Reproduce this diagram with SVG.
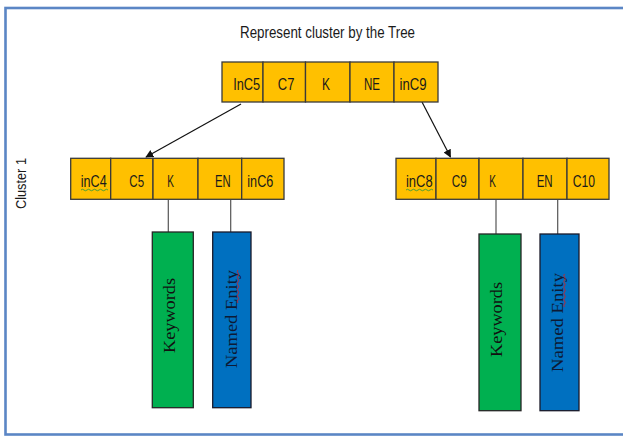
<svg xmlns="http://www.w3.org/2000/svg" width="623" height="439" viewBox="0 0 623 439">
<defs>
<marker id="ah" viewBox="0 0 10 10" refX="9" refY="5" markerWidth="8" markerHeight="8" markerUnits="userSpaceOnUse" orient="auto">
<path d="M0,0 L10,5 L0,10 z" fill="#111"/>
</marker>
<style>
.cell{fill:#FFC000;stroke:#3a3a3a;stroke-width:1.3}
.t{font-family:"Liberation Sans",Arial,sans-serif;font-size:17px;fill:#1a1a1a;text-anchor:middle}
.kw{fill:#00B050;stroke:#262626;stroke-width:1.3}
.ne{fill:#0070C0;stroke:#1a1a2a;stroke-width:1.3}
.vt{font-family:"Liberation Serif","Times New Roman",serif;font-size:17px;text-anchor:middle}
.link{stroke:#555;stroke-width:1.2;fill:none}
.arr{stroke:#111;stroke-width:1.2;fill:none;marker-end:url(#ah)}
.sq{fill:none;stroke-width:0.9}
</style>
</defs>
<rect width="623" height="439" fill="#fff"/>
<rect x="5.5" y="8" width="640" height="426.5" fill="none" stroke="#5b86c5" stroke-width="2.6"/>

<text x="327.5" y="38" font-family="Liberation Sans,Arial,sans-serif" font-size="16" fill="#1a1a1a" text-anchor="middle" textLength="175" lengthAdjust="spacingAndGlyphs">Represent cluster by the Tree</text>

<text transform="rotate(-90 26 183.5)" x="26" y="183.5" font-family="Liberation Sans,Arial,sans-serif" font-size="14" fill="#1a1a1a" text-anchor="middle" textLength="51" lengthAdjust="spacingAndGlyphs">Cluster 1</text>

<g id="connectors">
<line class="arr" x1="241" y1="104" x2="146" y2="157"/>
<line class="arr" x1="422" y1="102" x2="450.5" y2="157"/>
<line class="link" x1="168.3" y1="200" x2="168.3" y2="232"/>
<line class="link" x1="230.7" y1="200" x2="230.7" y2="232"/>
<line class="link" x1="496" y1="200" x2="496" y2="234"/>
<line class="link" x1="557.7" y1="200" x2="557.7" y2="234"/>
</g>

<g id="root">
<rect class="cell" x="222" y="62" width="41" height="40"/>
<rect class="cell" x="263" y="62" width="42.5" height="40"/>
<rect class="cell" x="305.5" y="62" width="44.5" height="40"/>
<rect class="cell" x="350" y="62" width="44" height="40"/>
<rect class="cell" x="394" y="62" width="44" height="40"/>
<text class="t" x="246.7" y="89.5" textLength="27" lengthAdjust="spacingAndGlyphs">InC5</text>
<text class="t" x="286.1" y="89.5" textLength="16.6" lengthAdjust="spacingAndGlyphs">C7</text>
<text class="t" x="326" y="89.5" textLength="8" lengthAdjust="spacingAndGlyphs">K</text>
<text class="t" x="372" y="89.5" textLength="16" lengthAdjust="spacingAndGlyphs">NE</text>
<text class="t" x="413.1" y="89.5" textLength="27" lengthAdjust="spacingAndGlyphs">inC9</text>
</g>

<g id="left">
<rect class="cell" x="70.7" y="158.3" width="40" height="41"/>
<rect class="cell" x="110.7" y="158.3" width="42.3" height="41"/>
<rect class="cell" x="153" y="158.3" width="45" height="41"/>
<rect class="cell" x="198" y="158.3" width="43.7" height="41"/>
<rect class="cell" x="241.7" y="158.3" width="42.3" height="41"/>
<text class="t" x="93.7" y="186.5" textLength="26" lengthAdjust="spacingAndGlyphs">inC4</text>
<text class="t" x="136.7" y="186.5" textLength="14.7" lengthAdjust="spacingAndGlyphs">C5</text>
<text class="t" x="170.7" y="186.5" textLength="6.7" lengthAdjust="spacingAndGlyphs">K</text>
<text class="t" x="222.8" y="186.5" textLength="15.7" lengthAdjust="spacingAndGlyphs">EN</text>
<text class="t" x="260.3" y="186.5" textLength="26" lengthAdjust="spacingAndGlyphs">inC6</text>
<path class="sq" stroke="#3a9a3a" d="M81,190 q1.5,-1.5 3,0 t3,0 t3,0 t3,0 t3,0 t3,0 t3,0 t3,0 t3,0"/>
</g>

<g id="right">
<rect class="cell" x="396" y="158.3" width="40" height="41"/>
<rect class="cell" x="436" y="158.3" width="43" height="41"/>
<rect class="cell" x="479" y="158.3" width="44" height="41"/>
<rect class="cell" x="523" y="158.3" width="44" height="41"/>
<rect class="cell" x="567" y="158.3" width="42" height="41"/>
<text class="t" x="419.3" y="186.5" textLength="26.7" lengthAdjust="spacingAndGlyphs">inC8</text>
<text class="t" x="459.2" y="186.5" textLength="15" lengthAdjust="spacingAndGlyphs">C9</text>
<text class="t" x="492.7" y="186.5" textLength="6.7" lengthAdjust="spacingAndGlyphs">K</text>
<text class="t" x="544.7" y="186.5" textLength="16" lengthAdjust="spacingAndGlyphs">EN</text>
<text class="t" x="583.8" y="186.5" textLength="22.3" lengthAdjust="spacingAndGlyphs">C10</text>
<path class="sq" stroke="#3a9a3a" d="M406,190 q1.5,-1.5 3,0 t3,0 t3,0 t3,0 t3,0 t3,0 t3,0 t3,0 t3,0"/>
</g>

<g id="kw-left">
<rect class="kw" x="152.3" y="232" width="41" height="175.7"/>
<text class="vt" transform="rotate(-90 175 315.5)" x="175" y="315.5" fill="#111" textLength="75" lengthAdjust="spacingAndGlyphs">Keywords</text>
</g>
<g id="ne-left">
<rect class="ne" x="212.7" y="232" width="38.3" height="175.7"/>
<text class="vt" transform="rotate(-90 237 319)" x="237" y="319" fill="#0d1a35" textLength="98" lengthAdjust="spacingAndGlyphs">Named Enity</text>
<path class="sq" stroke="#d02020" d="M238,270 q-1.5,1.5 0,3 t0,3 t0,3 t0,3 t0,3 t0,3 t0,3 t0,3 t0,3 t0,3 t0,3"/>
</g>

<g id="kw-right">
<rect class="kw" x="479" y="234" width="42" height="176.7"/>
<text class="vt" transform="rotate(-90 502.3 319.5)" x="502.3" y="319.5" fill="#111" textLength="75" lengthAdjust="spacingAndGlyphs">Keywords</text>
</g>
<g id="ne-right">
<rect class="ne" x="540" y="234" width="39" height="176.7"/>
<text class="vt" transform="rotate(-90 563.3 322.5)" x="563.3" y="322.5" fill="#0d1a35" textLength="99" lengthAdjust="spacingAndGlyphs">Named Enity</text>
<path class="sq" stroke="#d02020" d="M564.5,274 q-1.5,1.5 0,3 t0,3 t0,3 t0,3 t0,3 t0,3 t0,3 t0,3 t0,3 t0,3 t0,3"/>
</g>
</svg>
